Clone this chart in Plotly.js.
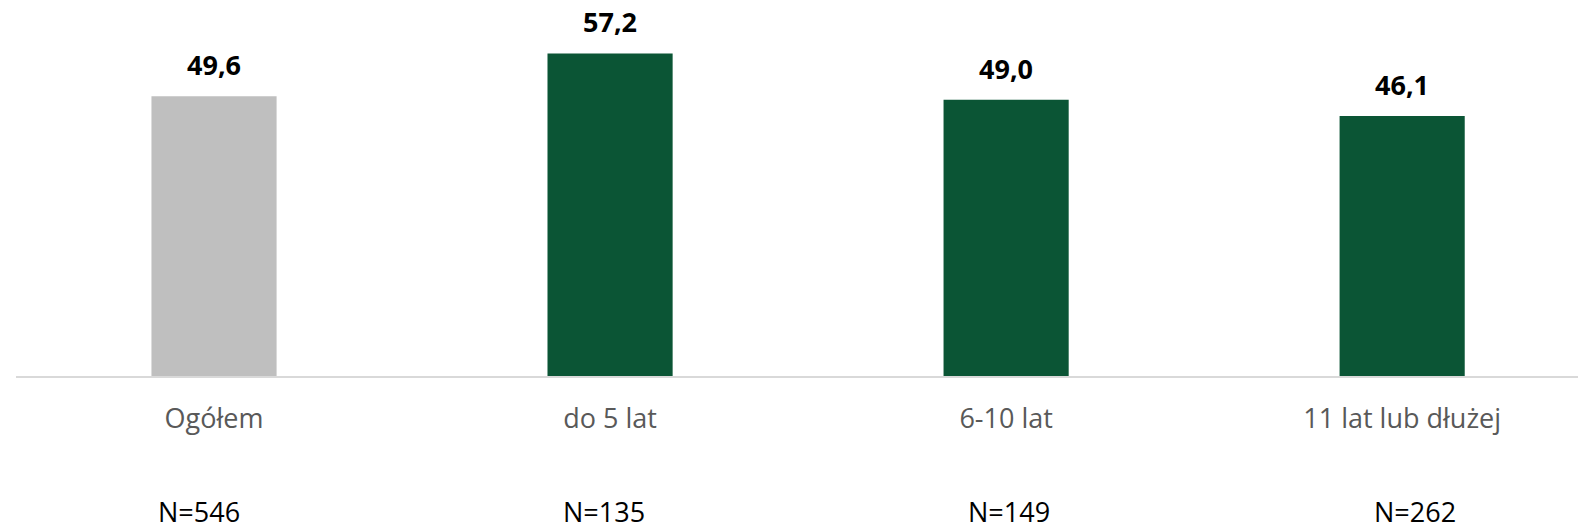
<!DOCTYPE html>
<html><head><meta charset="utf-8">
<script src="https://cdn.plot.ly/plotly-3.0.1.min.js"></script>
<style>html,body{margin:0;padding:0;background:#fff}#c{width:1578px;height:528px}</style>
</head><body><div id="c"></div>
<script>
const categories = ["Ogółem", "do 5 lat", "6-10 lat", "11 lat lub dłużej"];
const values = [49.6, 57.2, 49.0, 46.1];
const nLabels = ["N=546", "N=135", "N=149", "N=262"];
const barColors = ["#BFBFBF", "#0B5535", "#0B5535", "#0B5535"];
const nShift = [-15, -6, 3, 13];

const FONT = "Open Sans, Noto Sans, sans-serif";

const trace = {
  type: "bar",
  x: categories,
  y: values,
  marker: {color: barColors},
  hoverinfo: "none"
};

const annotations = [];
categories.forEach((c, i) => {
  annotations.push({
    x: c, y: values[i], xref: "x", yref: "y",
    text: "<b>" + values[i].toFixed(1).replace(".", ",") + "</b>",
    showarrow: false, yanchor: "bottom", yshift: 11,
    font: {family: FONT, size: 27, color: "#000000"}
  });
  annotations.push({
    x: c, y: 0, xref: "x", yref: "paper",
    text: nLabels[i],
    showarrow: false, yanchor: "middle", yshift: -135, xshift: nShift[i],
    font: {family: FONT, size: 27, color: "#000000"}
  });
});

const layout = {
  width: 1578, height: 528,
  margin: {l: 16, r: 0, t: 10, b: 152},
  paper_bgcolor: "#ffffff", plot_bgcolor: "#ffffff",
  showlegend: false,
  bargap: 0.684,
  xaxis: {
    type: "category",
    range: [-0.5, 3.444],
    showline: true, linecolor: "#D9D9D9", linewidth: 1.5,
    ticks: "", showgrid: false, zeroline: false,
    ticklabelstandoff: 18,
    tickfont: {family: FONT, size: 27, color: "#595959"}
  },
  yaxis: {
    range: [0, 64.9],
    visible: false, showgrid: false, zeroline: false
  },
  annotations: annotations
};

Plotly.newPlot("c", [trace], layout, {displayModeBar: false, staticPlot: true});
</script>
</body></html>
